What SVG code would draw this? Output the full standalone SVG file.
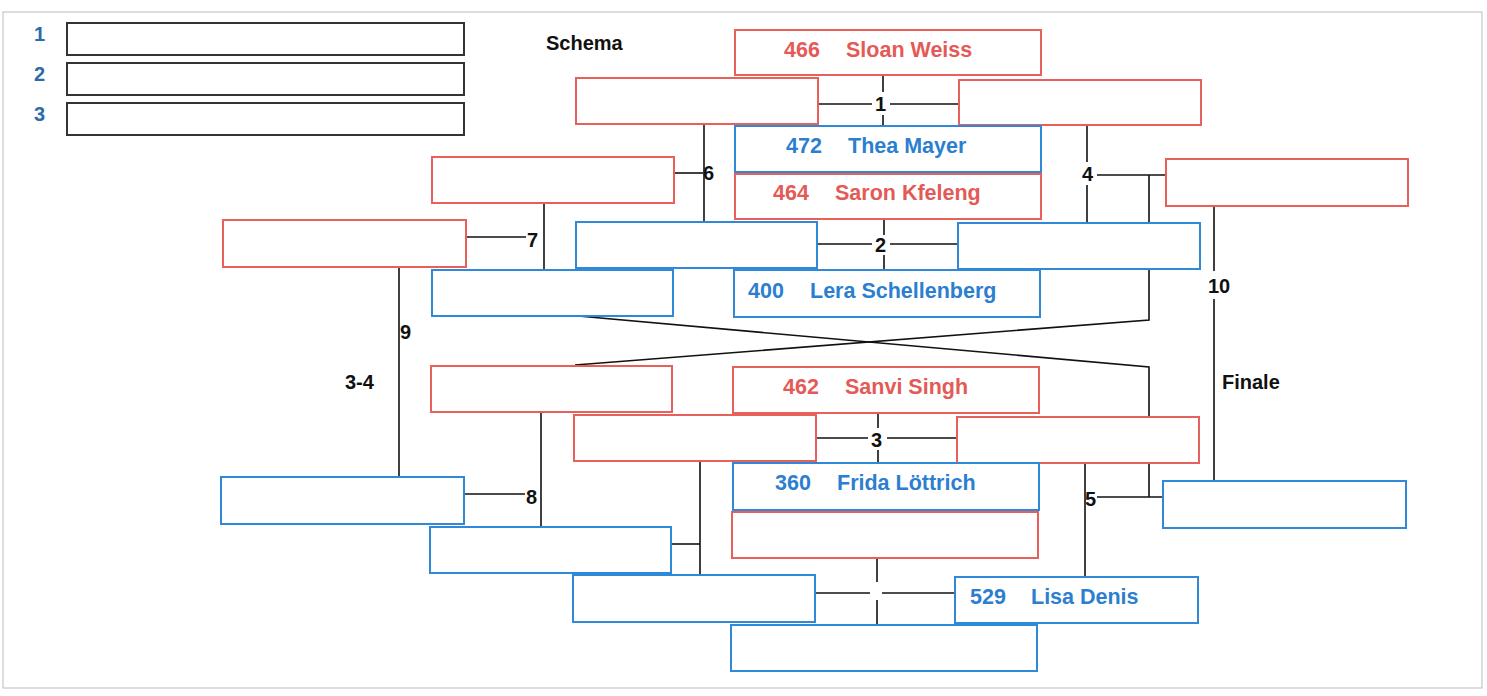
<svg xmlns="http://www.w3.org/2000/svg" width="1487" height="696" viewBox="0 0 1487 696">
<style>
.r{fill:#fff;stroke:#e8605c;stroke-width:2}
.b{fill:#fff;stroke:#2f88d8;stroke-width:2}
.k{fill:#fff;stroke:#333;stroke-width:2}
.t{font-family:"Liberation Sans",Arial,sans-serif;font-weight:bold;font-size:21.5px}
.tr{fill:#e35a56}
.tb{fill:#2c7fd0}
.n{font-family:"Liberation Sans",Arial,sans-serif;font-weight:bold;font-size:20px;fill:#111}
.ln{fill:#2c6aa8;font-family:"Liberation Sans",Arial,sans-serif;font-weight:bold;font-size:20px}
#connectors line,#connectors polyline{stroke:#111;stroke-width:1.6;fill:none}
</style>
<rect x="0" y="0" width="1487" height="696" fill="#fff"/>
<rect x="3" y="12" width="1479" height="676" fill="none" stroke="#bbb" stroke-width="1"/>
<g id="legend">
<text class="ln" x="34" y="41">1</text>
<text class="ln" x="34" y="81">2</text>
<text class="ln" x="34" y="121">3</text>
<rect class="k" x="67" y="23" width="397" height="32"/>
<rect class="k" x="67" y="63" width="397" height="32"/>
<rect class="k" x="67" y="103" width="397" height="32"/>
</g>
<g id="titles">
<text class="n" x="546" y="50" font-size="21">Schema</text>
<text class="n" x="345" y="389" font-size="21">3-4</text>
<text class="n" x="1222" y="389" font-size="21">Finale</text>
</g>
<g id="connectors">
<line x1="818" y1="104" x2="872" y2="104"/><line x1="890" y1="104" x2="959" y2="104"/>
<line x1="883" y1="76" x2="883" y2="92"/><line x1="883" y1="115" x2="883" y2="126"/>
<line x1="817" y1="244" x2="872" y2="244"/><line x1="890" y1="244" x2="958" y2="244"/>
<line x1="884" y1="220" x2="884" y2="235"/><line x1="884" y1="255" x2="884" y2="270"/>
<line x1="816" y1="438" x2="868" y2="438"/><line x1="887" y1="438" x2="957" y2="438"/>
<line x1="878" y1="413" x2="878" y2="428"/><line x1="878" y1="450" x2="878" y2="463"/>
<line x1="815" y1="593" x2="870" y2="593"/><line x1="882" y1="593" x2="955" y2="593"/>
<line x1="877" y1="559" x2="877" y2="582"/><line x1="877" y1="600" x2="877" y2="625"/>
<line x1="674" y1="173" x2="703" y2="173"/><line x1="704" y1="125" x2="704" y2="222"/>
<line x1="1087" y1="125" x2="1087" y2="162"/><line x1="1087" y1="185" x2="1087" y2="222"/>
<line x1="1097" y1="175" x2="1166" y2="175"/>
<polyline points="1149,175 1149,320 575,365"/>
<polyline points="578,316 1149,367 1149,497"/>
<line x1="1085" y1="463" x2="1085" y2="577"/>
<line x1="1097" y1="497" x2="1163" y2="497"/>
<line x1="466" y1="237" x2="526" y2="237"/><line x1="544" y1="204" x2="544" y2="270"/>
<line x1="464" y1="494" x2="525" y2="494"/><line x1="541" y1="412" x2="541" y2="527"/>
<line x1="671" y1="544" x2="700" y2="544"/><line x1="700" y1="461" x2="700" y2="575"/>
<line x1="399" y1="267" x2="399" y2="478"/>
<line x1="1214" y1="206" x2="1214" y2="271"/><line x1="1214" y1="299" x2="1214" y2="482"/>
<text class="n" x="875" y="111">1</text>
<text class="n" x="875" y="252">2</text>
<text class="n" x="871" y="447">3</text>
<text class="n" x="703" y="180">6</text>
<text class="n" x="1082" y="181">4</text>
<text class="n" x="1085" y="506">5</text>
<text class="n" x="527" y="247">7</text>
<text class="n" x="526" y="504">8</text>
<text class="n" x="400" y="339">9</text>
<text class="n" x="1208" y="293">10</text>
</g>
<g id="n466"><rect class="r" x="735" y="30" width="306" height="45"/><text class="t tr" x="784" y="57">466</text><text class="t tr" x="846" y="57">Sloan Weiss</text></g>
<g id="m1l"><rect class="r" x="576" y="78" width="242" height="46"/></g>
<g id="m1r"><rect class="r" x="959" y="80" width="242" height="45"/></g>
<g id="n472"><rect class="b" x="735" y="126" width="306" height="46"/><text class="t tb" x="786" y="153">472</text><text class="t tb" x="848" y="153">Thea Mayer</text></g>
<g id="n464"><rect class="r" x="735" y="174" width="306" height="45"/><text class="t tr" x="773" y="200">464</text><text class="t tr" x="835" y="200">Saron Kfeleng</text></g>
<g id="m2l"><rect class="b" x="576" y="222" width="241" height="46"/></g>
<g id="m2r"><rect class="b" x="958" y="223" width="242" height="46"/></g>
<g id="n400"><rect class="b" x="734" y="270" width="306" height="47"/><text class="t tb" x="748" y="298">400</text><text class="t tb" x="810" y="298">Lera Schellenberg</text></g>
<g id="m6"><rect class="r" x="432" y="157" width="242" height="46"/></g>
<g id="m7"><rect class="r" x="223" y="220" width="243" height="47"/></g>
<g id="m7b"><rect class="b" x="432" y="270" width="241" height="46"/></g>
<g id="m4"><rect class="r" x="1166" y="159" width="242" height="47"/></g>
<g id="m3a"><rect class="r" x="431" y="366" width="241" height="46"/></g>
<g id="n462"><rect class="r" x="733" y="367" width="306" height="46"/><text class="t tr" x="783" y="394">462</text><text class="t tr" x="845" y="394">Sanvi Singh</text></g>
<g id="m3l"><rect class="r" x="574" y="415" width="242" height="46"/></g>
<g id="m3r"><rect class="r" x="957" y="417" width="242" height="46"/></g>
<g id="n360"><rect class="b" x="733" y="463" width="306" height="47"/><text class="t tb" x="775" y="490">360</text><text class="t tb" x="837" y="490">Frida Löttrich</text></g>
<g id="e1"><rect class="r" x="732" y="512" width="306" height="46"/></g>
<g id="m8"><rect class="b" x="221" y="477" width="243" height="47"/></g>
<g id="m8b"><rect class="b" x="430" y="527" width="241" height="46"/></g>
<g id="m5"><rect class="b" x="1163" y="481" width="243" height="47"/></g>
<g id="m4l"><rect class="b" x="573" y="575" width="242" height="47"/></g>
<g id="n529"><rect class="b" x="955" y="577" width="243" height="46"/><text class="t tb" x="970" y="604">529</text><text class="t tb" x="1031" y="604">Lisa Denis</text></g>
<g id="e2"><rect class="b" x="731" y="625" width="306" height="46"/></g>
</svg>
